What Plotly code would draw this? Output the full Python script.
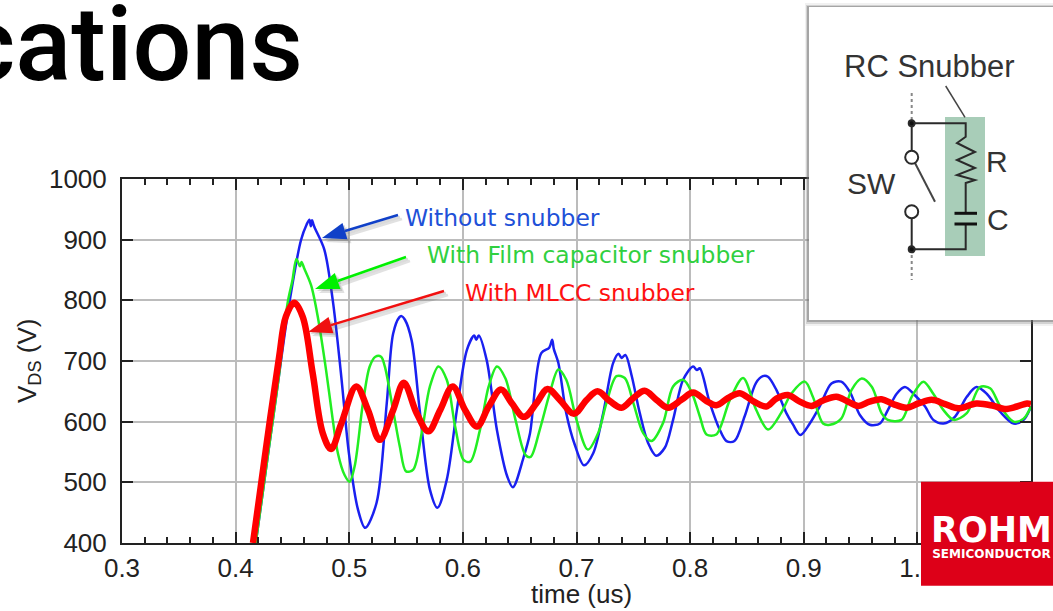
import plotly.graph_objects as go

# Values: time in us, VDS in volts
blue_t = [.4177,.429,.438,.4472,.4575,.4625,.4650,.4662,.4673,.4685,.4700,.478,.4855,.493,.4997,.5077,.514,.524,.533,.5386,.5440,.546,.5490,.5549,.562,.571,.5776,.5858,.5947,.6035,.6100,.6118,.6140,.621,.63,.639,.644,.6537,.6590,.669,.6760,.6786,.6800,.684,.691,.6985,.7067,.7147,.7235,.7323,.7370,.7396,.7430,.7484,.7557,.763,.77,.7777,.785,.7938,.8026,.8060,.8085,.8173,.826,.832,.839,.848,.858,.8640,.8685,.876,.8847,.8906,.897,.9053,.914,.9244,.933,.9406,.9494,.958,.967,.974,.9818,.989,.9976,1.0068,1.014,1.023,1.033,1.0435,1.052,1.061,1.073,1.0847,1.0935,1.1]
blue_v = [400,553,674,795,899,925,933,922,932,925,918,884,800,674,548,455,425,466,630,745,772,774,768,734,619,488,458,504,619,718,742,735,742,701,586,510,492,543,580,713,722,735,720,697,614,562,528,548,614,697,712,705,710,677,614,565,544,557,603,669,691,685,688,631,587,568,568,609,664,675,674,652,614,595,578,597,625,663,666,649,611,595,597,619,646,657,644,625,603,597,608,641,657,646,616,597,603,625]

green_t = [.4177,.429,.438,.4457,.450,.4535,.4566,.4580,.4605,.4664,.4723,.4796,.4855,.490,.4959,.5003,.5047,.512,.518,.5230,.5280,.5313,.5386,.5445,.550,.5563,.5637,.571,.5785,.5858,.5932,.6006,.6065,.615,.6227,.630,.6375,.6463,.6552,.6596,.6677,.6765,.684,.691,.7,.71,.719,.7264,.7352,.7425,.75,.7587,.766,.7762,.785,.7938,.801,.8085,.8144,.823,.835,.8466,.858,.8686,.880,.889,.901,.908,.917,.923,.933,.942,.951,.96,.9685,.974,.986,.995,1.0053,1.014,1.023,1.032,1.0435,1.055,1.064,1.073,1.0847,1.0935,1.1]
green_v = [400,553,674,795,833,868,856,863,852,825,773,685,603,548,512,501,526,630,691,707,707,691,619,559,518,521,581,658,691,669,592,537,534,586,658,691,671,603,545,542,587,647,686,669,603,554,581,631,675,672,631,581,568,598,658,669,650,609,579,579,636,672,620,587,614,646,666,641,597,595,605,652,671,657,614,603,603,641,666,646,619,603,614,657,655,625,600,605,625]

red_t = [.4153,.4265,.4383,.4442,.4516,.459,.4678,.4767,.484,.493,.5062,.5165,.5268,.5386,.548,.5593,.5696,.58,.591,.602,.6124,.6227,.6336,.6428,.6537,.665,.6745,.6853,.6977,.709,.7185,.7293,.7396,.75,.76,.7704,.7806,.7924,.8026,.8144,.823,.8334,.8437,.8554,.867,.8759,.886,.8965,.9068,.917,.9288,.939,.948,.958,.9685,.9788,.9906,1.0009,1.0126,1.0244,1.036,1.052,1.067,1.077,1.0876,1.0965,1.1]
red_v = [400,553,707,773,796,773,680,581,555,597,658,619,570,619,664,614,584,619,658,619,592,625,653,631,608,631,654,636,613,636,650,634,623,639,651,636,623,636,648,634,627,639,647,634,625,638,644,633,626,635,641,633,626,633,637,629,623,630,636,629,622,630,626,621,625,630,629]

x_ticks = [0.3, 0.4, 0.5, 0.6, 0.7, 0.8, 0.9, 1.0, 1.1]
x_tick_labels = ["0.3", "0.4", "0.5", "0.6", "0.7", "0.8", "0.9", "1.0", " "]
y_ticks = [400, 500, 600, 700, 800, 900, 1000]
title_text = "cations"
x_title = "time (us)"
y_title = "V<sub>DS</sub> (V)"
label_blue = "Without snubber"
label_green = "With Film capacitor snubber"
label_red = "With MLCC snubber"

W, H = 1053, 611
L, R, T, B = 122, 1031, 179, 543
PW, PH = R - L, B - T
def px(x): return (x - L) / PW
def py(y): return (B - y) / PH

shapes, notes = [], []
def rect(x0, y0, x1, y1, fill, layer="above"):
    shapes.append(dict(type="rect", xref="paper", yref="paper", x0=px(x0), x1=px(x1), y0=py(y0), y1=py(y1),
                       fillcolor=fill, line_width=0, layer=layer))
def poly(pts, color, width=2, fill=None, closed=False, dash=None):
    d = "M " + " L ".join(f"{px(a):.5f},{py(b):.5f}" for a, b in pts) + (" Z" if closed else "")
    s = dict(type="path", xref="paper", yref="paper", path=d, layer="above",
             line=dict(color=color, width=width, dash=dash or "solid") if width else dict(width=0))
    if fill: s["fillcolor"] = fill
    shapes.append(s)
def text(x, y, t, size, color, family="Liberation Sans", xanchor="center", yanchor="middle", angle=0):
    notes.append(dict(xref="paper", yref="paper", x=px(x), y=py(y), text=t, showarrow=False, xanchor=xanchor,
                      yanchor=yanchor, textangle=angle, font=dict(size=size, color=color, family=family)))
def arrow(tail, tip, color, hl, hw, lw):
    dx, dy = tip[0]-tail[0], tip[1]-tail[1]
    n = (dx*dx+dy*dy)**.5; ux, uy = dx/n, dy/n
    b = (tip[0]-ux*hl, tip[1]-uy*hl)
    a1 = (b[0]-uy*hw/2, b[1]+ux*hw/2); a2 = (b[0]+uy*hw/2, b[1]-ux*hw/2)
    for off, c in ((4, "rgba(90,90,90,0.18)"), (2, "rgba(90,90,90,0.22)"), (0, color)):
        poly([(tail[0]+off, tail[1]+off), (b[0]+off, b[1]+off)], c, lw)
        poly([(tip[0]+off, tip[1]+off), (a1[0]+off, a1[1]+off), (a2[0]+off, a2[1]+off)], c, 0, fill=c, closed=True)

# white boxes behind the labels (hide the grid only)
rect(407, 191, 640, 232, "white", "between")
rect(407, 232, 773, 278, "white", "between")
rect(445, 278, 715, 313, "white", "between")

arrow((398, 215), (322, 238), "#1040c8", 24, 17, 2.5)
arrow((406, 257), (315, 289), "#00f000", 24, 17, 2.5)
arrow((444, 291), (308, 332), "#f01010", 24, 17, 2.5)

# inset panel with shadow
rect(805, 3, 1053, 326, "rgba(120,120,120,0.10)")
rect(806, 5, 1053, 324, "rgba(120,120,120,0.25)")
rect(807, 6, 1053, 322, "rgba(110,110,110,0.45)")
rect(809, 7, 1053, 320, "#ffffff")
rect(945, 117, 985, 256, "#a8cdb8")
poly([(911.7, 93), (911.7, 123)], "#888888", 2, dash="dot")
poly([(911.7, 249), (911.7, 280)], "#888888", 2, dash="dot")
poly([(911.7, 123.3), (965.7, 123.3), (965.7, 136.7), (957, 143), (975, 152), (957, 160), (975, 168), (957, 175), (975, 180), (965.7, 183), (965.7, 213)], "#2a2a2a", 2)
poly([(965.7, 224), (965.7, 249.3), (911.7, 249.3), (911.7, 218)], "#2a2a2a", 2)
poly([(911.7, 123.3), (911.7, 151)], "#2a2a2a", 2)
poly([(915, 163), (935, 201.7)], "#444444", 2)
poly([(945.7, 86), (965, 117.3)], "#444444", 1.5)
poly([(954.5, 213.3), (977, 213.3)], "#111111", 3)
poly([(954.5, 224), (977, 224)], "#111111", 3)
for cx, cy, r, fill in ((911.7, 157.3, 6.5, "white"), (911.7, 211.7, 6.5, "white"), (911.7, 123.3, 3, "#111111"), (911.7, 249.3, 3, "#111111")):
    shapes.append(dict(type="circle", xref="paper", yref="paper", x0=px(cx-r), x1=px(cx+r), y0=py(cy+r), y1=py(cy-r),
                       fillcolor=fill, line=dict(color="#2a2a2a", width=2), layer="above"))
text(929.5, 66, "RC Snubber", 31, "#333333")
text(871.7, 183, "SW", 30, "#333333")
text(997, 161.7, "R", 30, "#333333")
text(997.7, 219, "C", 30, "#333333")

# logo
rect(921, 481.7, 1053, 585.7, "#dd0018")
text(991, 535, '<b><span style="font-size:35px">ROHM</span><br>SEMICONDUCTOR</b>', 12, "#ffffff", "DejaVu Sans, sans-serif")

text(403, 218, label_blue, 23.4, "#2050d8", "DejaVu Sans", xanchor="left")
text(425, 255, label_green, 23.4, "#30d040", "DejaVu Sans", xanchor="left")
text(463, 293, label_red, 23.4, "#ff1010", "DejaVu Sans", xanchor="left")
text(581, 594, x_title, 26, "#222222")
text(28, 361, y_title, 26, "#222222", angle=-90)
text(305, 44, title_text, 104, "#000000", "Roboto", xanchor="right")
notes[-1]["font"]["weight"] = 500

fig = go.Figure()
for t, v, c, w, sm in ((blue_t, blue_v, "#1a20f0", 2.5, 0.9), (green_t, green_v, "#22ee22", 2.5, 0.9), (red_t, red_v, "#ff0000", 6.5, 1.0)):
    fig.add_trace(go.Scatter(x=t, y=v, mode="lines", line=dict(color=c, width=w, shape="spline", smoothing=sm),
                             showlegend=False, hoverinfo="skip"))

tickfont = dict(size=26, color="#222222", family="Liberation Sans")
fig.update_layout(width=W, height=H, margin=dict(l=L, r=W-R, t=T, b=H-B), paper_bgcolor="white", plot_bgcolor="white",
                  shapes=shapes, annotations=notes, showlegend=False)
fig.update_xaxes(range=[0.3, 1.1], tickvals=x_ticks, ticktext=x_tick_labels, automargin=False, showgrid=True, gridcolor="#bcbcbc", gridwidth=2,
                 zeroline=False, showline=True, linecolor="#222222", linewidth=2, mirror="ticks", ticks="inside",
                 ticklen=11, tickwidth=2, tickcolor="#222222", tickfont=tickfont, ticklabelstandoff=1,
                 minor=dict(dtick=0.02, ticks="inside", ticklen=6, tickwidth=1.5, tickcolor="#222222", showgrid=False))
fig.update_yaxes(range=[400, 1000], tickvals=y_ticks, automargin=False, showgrid=True, gridcolor="#bcbcbc", gridwidth=2, zeroline=False,
                 showline=True, linecolor="#222222", linewidth=2, mirror="ticks", ticks="inside", ticklen=11, tickwidth=2,
                 tickcolor="#222222", tickfont=tickfont, ticklabelstandoff=8)
fig.write_html("out.html", default_width="1053px", default_height="611px",
               config=dict(displayModeBar=False, responsive=False),
               post_script="document.documentElement.style.overflow='hidden';document.body.style.margin='0';document.body.style.overflow='hidden';")
